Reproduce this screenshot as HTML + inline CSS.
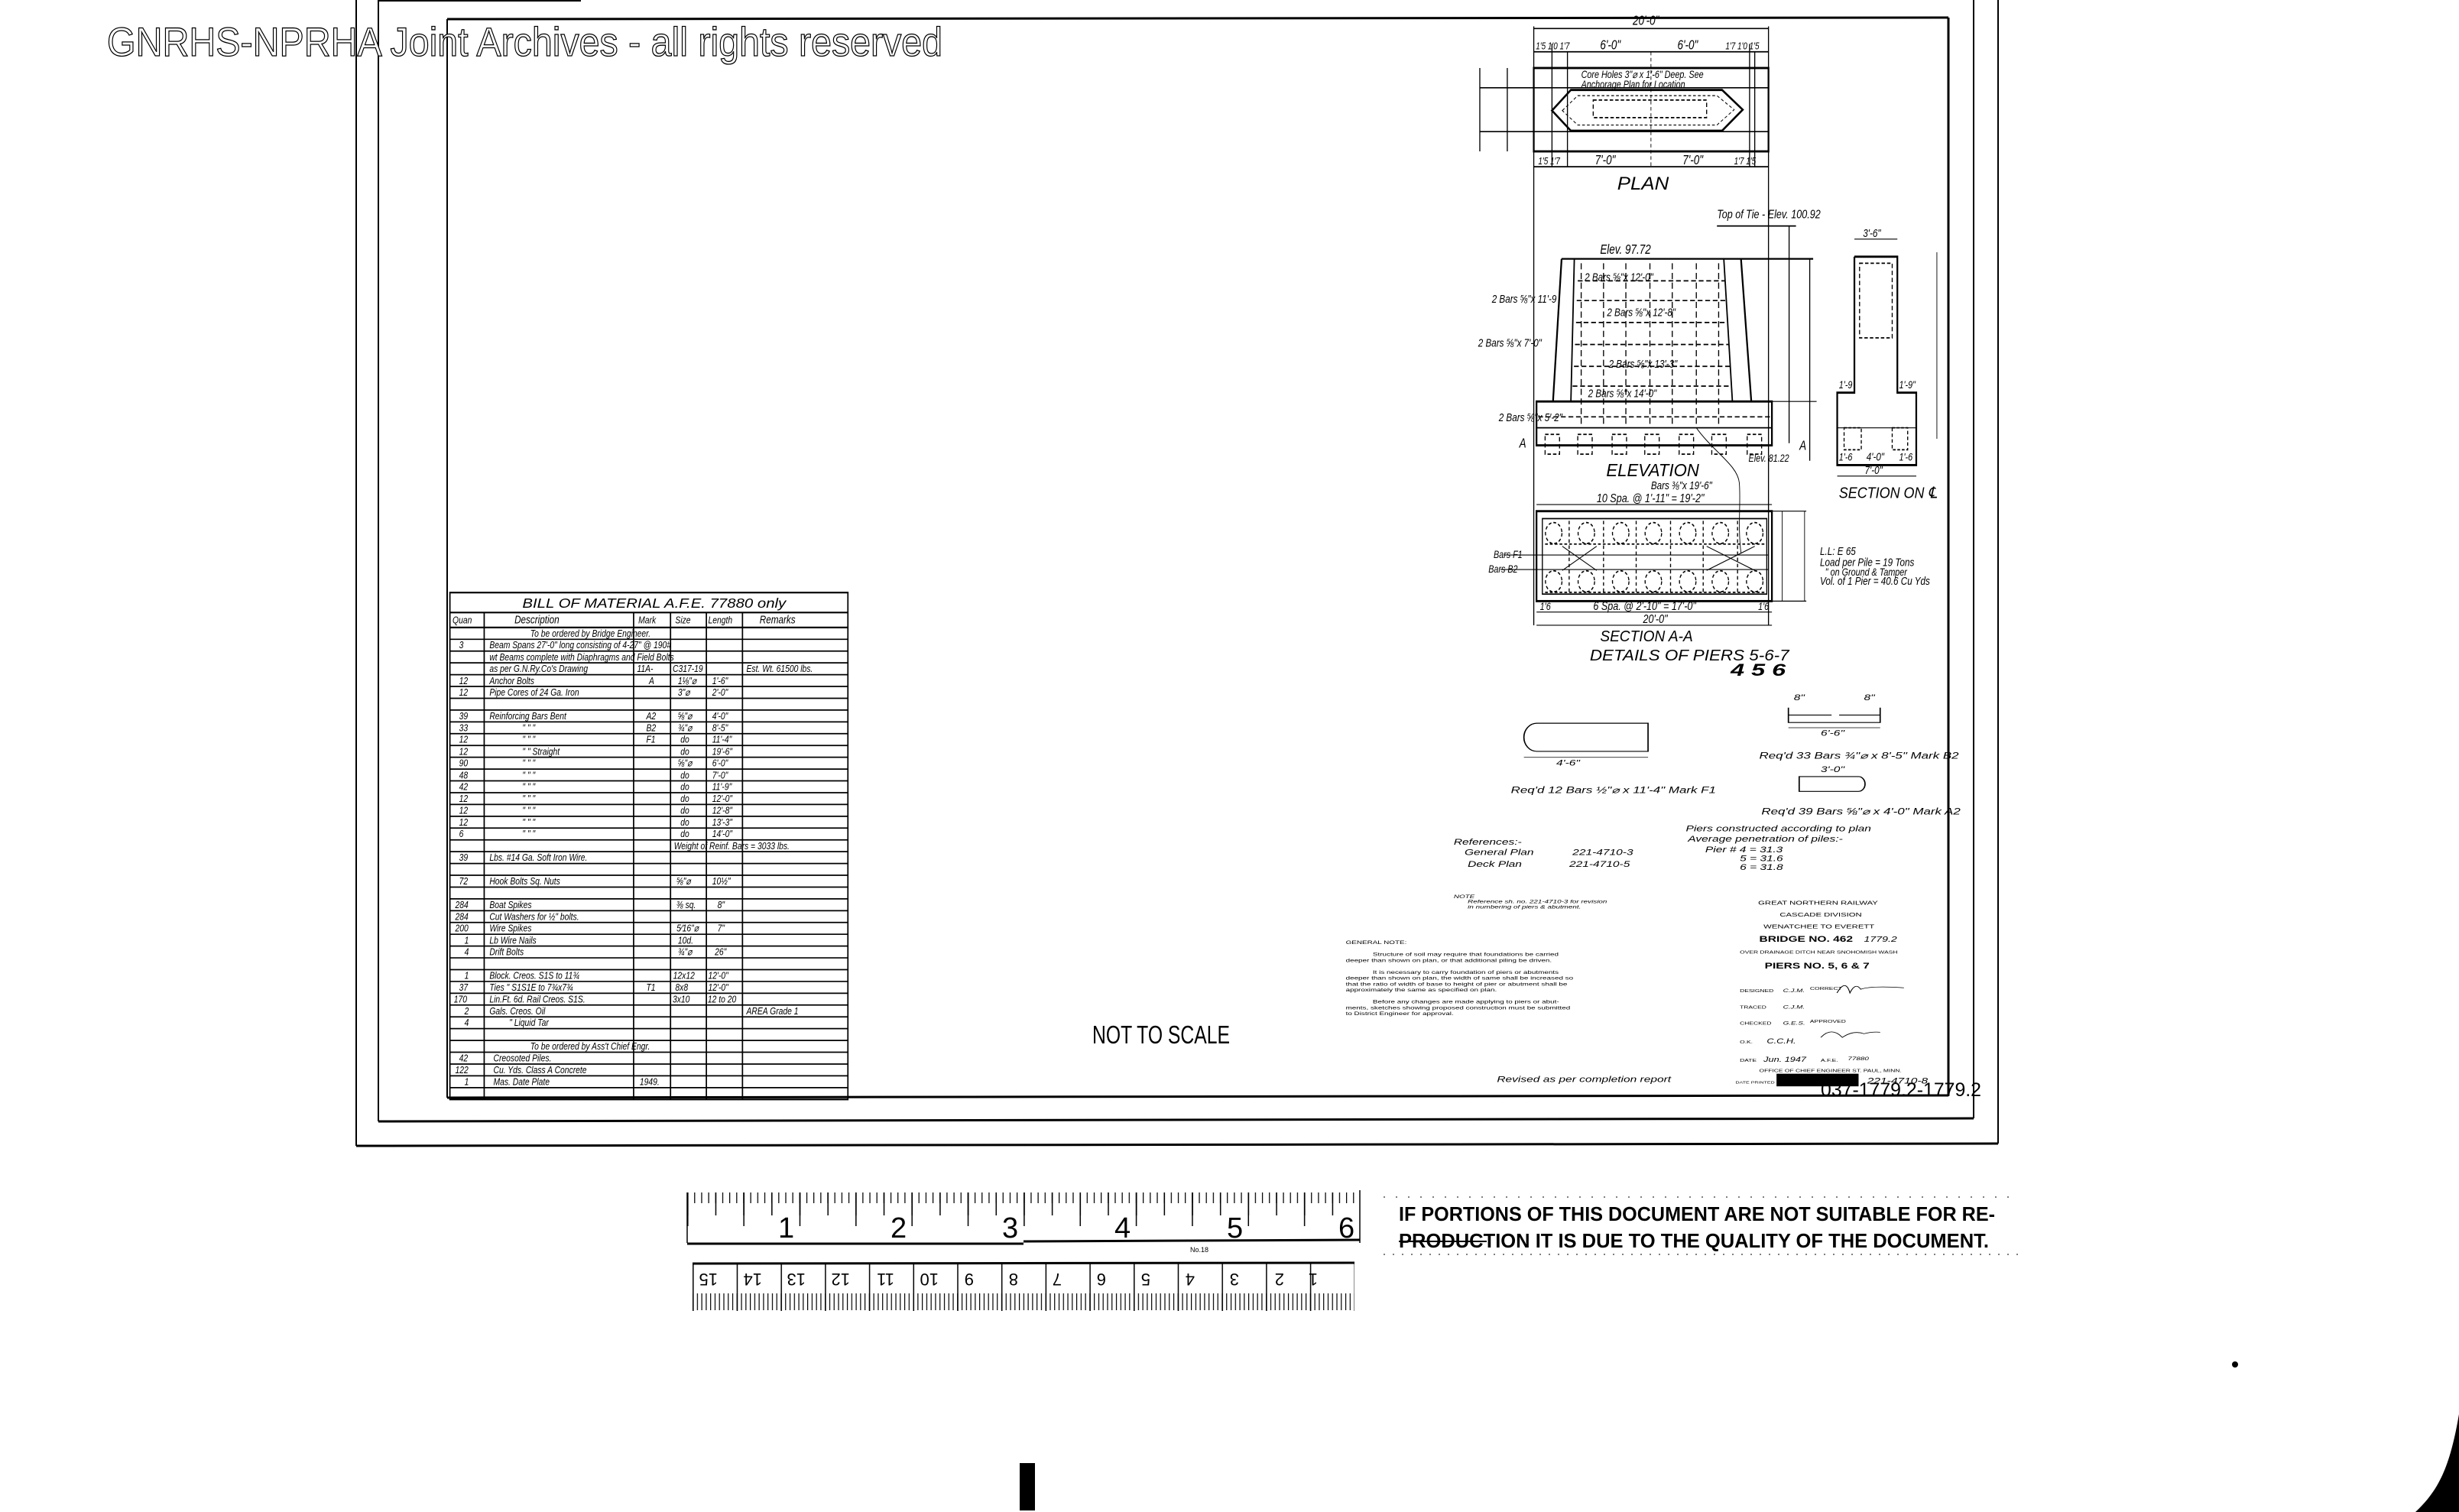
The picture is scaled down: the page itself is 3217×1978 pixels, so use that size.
<!DOCTYPE html>
<html><head><meta charset="utf-8">
<style>
html,body{margin:0;padding:0;background:#fff;}
svg{display:block;}
text{font-family:"Liberation Sans",sans-serif;fill:#000;}
</style></head>
<body>
<svg width="3217" height="1978" viewBox="0 0 3217 1978" xmlns="http://www.w3.org/2000/svg">
<defs>
<pattern id="in16" patternUnits="userSpaceOnUse" x="899" y="1560" width="9.17" height="80">
<line x1="0.6" y1="0" x2="0.6" y2="14" stroke="#000" stroke-width="1.3"/>
</pattern>
<pattern id="in4" patternUnits="userSpaceOnUse" x="899" y="1560" width="36.68" height="80">
<line x1="0.8" y1="0" x2="0.8" y2="30" stroke="#000" stroke-width="1.5"/>
</pattern>
<pattern id="in2" patternUnits="userSpaceOnUse" x="899" y="1560" width="73.35" height="80">
<line x1="0.8" y1="0" x2="0.8" y2="44" stroke="#000" stroke-width="1.5"/>
</pattern>
<pattern id="mm" patternUnits="userSpaceOnUse" x="906" y="1692" width="5.77" height="30">
<line x1="0.6" y1="0" x2="0.6" y2="22" stroke="#000" stroke-width="1.2"/>
</pattern>
<pattern id="cm" patternUnits="userSpaceOnUse" x="906" y="1653" width="57.7" height="70">
<line x1="0.8" y1="0" x2="0.8" y2="62" stroke="#000" stroke-width="1.5"/>
</pattern>
</defs>

<g stroke="#000" fill="none">
<line x1="466" y1="0" x2="466" y2="1499" stroke-width="2"/>
<line x1="466" y1="1499" x2="2614" y2="1496" stroke-width="3"/>
<line x1="2614" y1="0" x2="2614" y2="1496" stroke-width="2"/>
<line x1="495" y1="0" x2="495" y2="1467" stroke-width="2"/>
<line x1="495" y1="1" x2="760" y2="1" stroke-width="2"/>
<line x1="495" y1="1467" x2="2582" y2="1463" stroke-width="3"/>
<line x1="2582" y1="0" x2="2582" y2="1463" stroke-width="2"/>
<line x1="585" y1="25" x2="2549" y2="23" stroke-width="3"/>
<line x1="585" y1="25" x2="585" y2="1436" stroke-width="2"/>
<line x1="585" y1="1436" x2="2549" y2="1433" stroke-width="3"/>
<line x1="2549" y1="23" x2="2549" y2="1433" stroke-width="3"/>
</g>

<text x="140" y="73" font-size="53" textLength="1093" lengthAdjust="spacingAndGlyphs" style="fill:#fff;stroke:#000;stroke-width:1.3">GNRHS-NPRHA Joint Archives - all rights reserved</text>

<g transform="translate(580,760) scale(0.3448,0.4348)">
<g stroke="#000" stroke-width="5" fill="none">
<rect x="25" y="35" width="1510" height="1525"/>
<line x1="25" y1="95" x2="1535" y2="95"/>
<line x1="25" y1="140" x2="1535" y2="140"/>
<line x1="155" y1="95" x2="155" y2="1560"/>
<line x1="722" y1="95" x2="722" y2="1560"/>
<line x1="862" y1="95" x2="862" y2="1560"/>
<line x1="998" y1="95" x2="998" y2="1560"/>
<line x1="1135" y1="95" x2="1135" y2="1560"/>
</g>
<g stroke="#000" stroke-width="4">
<line x1="25" y1="175.5" x2="1535" y2="175.5"/><line x1="25" y1="211" x2="1535" y2="211"/><line x1="25" y1="246.5" x2="1535" y2="246.5"/><line x1="25" y1="282" x2="1535" y2="282"/><line x1="25" y1="317.5" x2="1535" y2="317.5"/><line x1="25" y1="353" x2="1535" y2="353"/><line x1="25" y1="388.5" x2="1535" y2="388.5"/><line x1="25" y1="424" x2="1535" y2="424"/><line x1="25" y1="459.5" x2="1535" y2="459.5"/><line x1="25" y1="495" x2="1535" y2="495"/><line x1="25" y1="530.5" x2="1535" y2="530.5"/><line x1="25" y1="566" x2="1535" y2="566"/><line x1="25" y1="601.5" x2="1535" y2="601.5"/><line x1="25" y1="637" x2="1535" y2="637"/><line x1="25" y1="672.5" x2="1535" y2="672.5"/><line x1="25" y1="708" x2="1535" y2="708"/><line x1="25" y1="743.5" x2="1535" y2="743.5"/><line x1="25" y1="779" x2="1535" y2="779"/><line x1="25" y1="814.5" x2="1535" y2="814.5"/><line x1="25" y1="850" x2="1535" y2="850"/><line x1="25" y1="885.5" x2="1535" y2="885.5"/><line x1="25" y1="921" x2="1535" y2="921"/><line x1="25" y1="956.5" x2="1535" y2="956.5"/><line x1="25" y1="992" x2="1535" y2="992"/><line x1="25" y1="1027.5" x2="1535" y2="1027.5"/><line x1="25" y1="1063" x2="1535" y2="1063"/><line x1="25" y1="1098.5" x2="1535" y2="1098.5"/><line x1="25" y1="1134" x2="1535" y2="1134"/><line x1="25" y1="1169.5" x2="1535" y2="1169.5"/><line x1="25" y1="1205" x2="1535" y2="1205"/><line x1="25" y1="1240.5" x2="1535" y2="1240.5"/><line x1="25" y1="1276" x2="1535" y2="1276"/><line x1="25" y1="1311.5" x2="1535" y2="1311.5"/><line x1="25" y1="1347" x2="1535" y2="1347"/><line x1="25" y1="1382.5" x2="1535" y2="1382.5"/><line x1="25" y1="1418" x2="1535" y2="1418"/><line x1="25" y1="1453.5" x2="1535" y2="1453.5"/><line x1="25" y1="1489" x2="1535" y2="1489"/><line x1="25" y1="1524.5" x2="1535" y2="1524.5"/>
</g>
<g font-size="30" font-style="italic">
<text x="300" y="80" font-size="40" textLength="1000" lengthAdjust="spacingAndGlyphs">BILL OF MATERIAL   A.F.E. 77880 only</text>
<text x="35" y="128">Quan</text><text x="270" y="128" font-size="34">Description</text><text x="740" y="128">Mark</text><text x="880" y="128">Size</text><text x="1005" y="128">Length</text><text x="1200" y="128" font-size="34">Remarks</text>
<text x="330" y="168">To be ordered by Bridge Engineer.</text>
<text x="60" y="203">3</text><text x="175" y="203">Beam Spans 27'-0" long consisting of 4-27" @ 190#</text>
<text x="175" y="239">wt Beams complete with Diaphragms and Field Bolts</text>
<text x="175" y="274">as per G.N.Ry.Co's Drawing</text><text x="735" y="274">11A-</text><text x="870" y="274">C317-19</text><text x="1150" y="274">Est. Wt. 61500 lbs.</text>
<text x="60" y="310">12</text><text x="175" y="310">Anchor Bolts</text><text x="780" y="310">A</text><text x="890" y="310">1⅛"⌀</text><text x="1020" y="310">1'-6"</text>
<text x="60" y="345">12</text><text x="175" y="345">Pipe Cores of 24 Ga. Iron</text><text x="890" y="345">3"⌀</text><text x="1020" y="345">2'-0"</text>
<text x="60" y="416">39</text><text x="175" y="416">Reinforcing Bars  Bent</text><text x="770" y="416">A2</text><text x="890" y="416">⅝"⌀</text><text x="1020" y="416">4'-0"</text>
<text x="60" y="452">33</text><text x="300" y="452">"        "        "</text><text x="770" y="452">B2</text><text x="890" y="452">¾"⌀</text><text x="1020" y="452">8'-5"</text>
<text x="60" y="487">12</text><text x="300" y="487">"        "        "</text><text x="770" y="487">F1</text><text x="900" y="487">do</text><text x="1020" y="487">11'-4"</text>
<text x="60" y="523">12</text><text x="300" y="523">"     "  Straight</text><text x="900" y="523">do</text><text x="1020" y="523">19'-6"</text>
<text x="60" y="558">90</text><text x="300" y="558">"        "        "</text><text x="890" y="558">⅝"⌀</text><text x="1020" y="558">6'-0"</text>
<text x="60" y="594">48</text><text x="300" y="594">"        "        "</text><text x="900" y="594">do</text><text x="1020" y="594">7'-0"</text>
<text x="60" y="629">42</text><text x="300" y="629">"        "        "</text><text x="900" y="629">do</text><text x="1020" y="629">11'-9"</text>
<text x="60" y="665">12</text><text x="300" y="665">"        "        "</text><text x="900" y="665">do</text><text x="1020" y="665">12'-0"</text>
<text x="60" y="700">12</text><text x="300" y="700">"        "        "</text><text x="900" y="700">do</text><text x="1020" y="700">12'-8"</text>
<text x="60" y="736">12</text><text x="300" y="736">"        "        "</text><text x="900" y="736">do</text><text x="1020" y="736">13'-3"</text>
<text x="60" y="771">6</text><text x="300" y="771">"        "        "</text><text x="900" y="771">do</text><text x="1020" y="771">14'-0"</text>
<text x="875" y="807">Weight of Reinf. Bars = 3033 lbs.</text>
<text x="60" y="842">39</text><text x="175" y="842">Lbs. #14 Ga. Soft Iron Wire.</text>
<text x="60" y="913">72</text><text x="175" y="913">Hook Bolts  Sq. Nuts</text><text x="885" y="913">⅝"⌀</text><text x="1020" y="913">10½"</text>
<text x="45" y="984">284</text><text x="175" y="984">Boat Spikes</text><text x="885" y="984">⅜ sq.</text><text x="1040" y="984">8"</text>
<text x="45" y="1020">284</text><text x="175" y="1020">Cut Washers for ½" bolts.</text>
<text x="45" y="1055">200</text><text x="175" y="1055">Wire Spikes</text><text x="885" y="1055">5⁄16"⌀</text><text x="1040" y="1055">7"</text>
<text x="80" y="1091">1</text><text x="175" y="1091">Lb Wire Nails</text><text x="890" y="1091">10d.</text>
<text x="80" y="1126">4</text><text x="175" y="1126">Drift Bolts</text><text x="890" y="1126">¾"⌀</text><text x="1030" y="1126">26"</text>
<text x="80" y="1197">1</text><text x="175" y="1197">Block. Creos. S1S to 11¾</text><text x="872" y="1197">12x12</text><text x="1005" y="1197">12'-0"</text>
<text x="60" y="1233">37</text><text x="175" y="1233">Ties    " S1S1E to 7¾x7¾</text><text x="770" y="1233">T1</text><text x="880" y="1233">8x8</text><text x="1005" y="1233">12'-0"</text>
<text x="40" y="1268">170</text><text x="175" y="1268">Lin.Ft. 6d. Rail Creos. S1S.</text><text x="870" y="1268">3x10</text><text x="1003" y="1268">12 to 20</text>
<text x="80" y="1304">2</text><text x="175" y="1304">Gals. Creos. Oil</text><text x="1150" y="1304">AREA Grade 1</text>
<text x="80" y="1339">4</text><text x="250" y="1339">"    Liquid Tar</text>
<text x="330" y="1410">To be ordered by Ass't Chief Engr.</text>
<text x="60" y="1446">42</text><text x="190" y="1446">Creosoted  Piles.</text>
<text x="45" y="1481">122</text><text x="190" y="1481">Cu. Yds. Class A Concrete</text>
<text x="80" y="1517">1</text><text x="190" y="1517">Mas. Date Plate</text><text x="745" y="1517">1949.</text>
</g>
</g>

<g transform="translate(1900,0) scale(0.4496,0.574)" fill="none" stroke="#000" stroke-width="4">
<line x1="237" y1="60" x2="237" y2="1425" stroke-width="3"/>
<line x1="920" y1="60" x2="920" y2="1425" stroke-width="3"/>
<line x1="237" y1="65" x2="920" y2="65" stroke-width="3"/>
<line x1="237" y1="118" x2="920" y2="118" stroke-width="3"/>
<rect x="237" y="155" width="683" height="190" stroke-width="5"/>
<line x1="237" y1="380" x2="920" y2="380" stroke-width="3"/>
<line x1="290" y1="100" x2="290" y2="380" stroke-width="3"/>
<line x1="335" y1="118" x2="335" y2="380" stroke-width="3"/>
<line x1="865" y1="100" x2="865" y2="380" stroke-width="3"/>
<line x1="880" y1="118" x2="880" y2="380" stroke-width="3"/>
<line x1="578" y1="118" x2="578" y2="380" stroke-width="2" stroke-dasharray="8 6"/>
<line x1="80" y1="200" x2="920" y2="200" stroke-width="3"/>
<line x1="80" y1="300" x2="920" y2="300" stroke-width="3"/>
<line x1="80" y1="155" x2="80" y2="345" stroke-width="3"/>
<line x1="160" y1="155" x2="160" y2="345" stroke-width="3"/>
<polygon points="290,252 345,205 785,205 845,250 785,298 345,298" stroke-width="5"/>
<polygon points="320,252 365,218 770,218 820,250 770,285 365,285" stroke-width="2" stroke-dasharray="8 6"/>
<rect x="410" y="228" width="330" height="40" stroke-width="3" stroke-dasharray="10 6"/>
<line x1="770" y1="515" x2="1000" y2="515" stroke-width="3"/>
<line x1="318" y1="590" x2="1050" y2="590" stroke-width="4"/>
<line x1="318" y1="590" x2="293" y2="915" stroke-width="5"/>
<line x1="355" y1="590" x2="345" y2="915" stroke-width="4"/>
<line x1="790" y1="590" x2="815" y2="915" stroke-width="4"/>
<line x1="840" y1="590" x2="870" y2="915" stroke-width="5"/>
<rect x="245" y="915" width="685" height="100" stroke-width="5"/>
<line x1="245" y1="975" x2="930" y2="975" stroke-width="3"/>
<g stroke-width="3" stroke-dasharray="14 8">
<line x1="375" y1="600" x2="375" y2="975"/><line x1="440" y1="600" x2="440" y2="975"/><line x1="505" y1="600" x2="505" y2="975"/><line x1="575" y1="600" x2="575" y2="975"/><line x1="640" y1="600" x2="640" y2="975"/><line x1="710" y1="600" x2="710" y2="975"/><line x1="775" y1="600" x2="775" y2="975"/>
<line x1="365" y1="640" x2="795" y2="640"/><line x1="362" y1="685" x2="800" y2="685"/><line x1="360" y1="735" x2="803" y2="735"/><line x1="357" y1="785" x2="806" y2="785"/><line x1="354" y1="835" x2="809" y2="835"/><line x1="350" y1="880" x2="812" y2="880"/><line x1="250" y1="950" x2="925" y2="950"/>
</g>
<g stroke-width="3" stroke-dasharray="10 6">
<rect x="270" y="990" width="42" height="45"/><rect x="365" y="990" width="42" height="45"/><rect x="465" y="990" width="42" height="45"/><rect x="560" y="990" width="42" height="45"/><rect x="660" y="990" width="42" height="45"/><rect x="755" y="990" width="42" height="45"/><rect x="858" y="990" width="42" height="45"/>
</g>
<line x1="980" y1="515" x2="980" y2="1010" stroke-width="3"/>
<line x1="1040" y1="590" x2="1040" y2="1050" stroke-width="3"/>
<line x1="930" y1="915" x2="1060" y2="915" stroke-width="2"/>
<path d="M710,975 C760,1030 830,1060 835,1100 C840,1140 830,1200 840,1260" stroke-width="2"/>
<polyline points="1170,585 1295,585 1295,895 1350,895 1350,1060 1120,1060 1120,895 1170,895 1170,585" stroke-width="5"/>
<rect x="1185" y="600" width="95" height="170" stroke-width="3" stroke-dasharray="10 6"/>
<line x1="1120" y1="975" x2="1350" y2="975" stroke-width="2"/>
<rect x="1140" y="975" width="50" height="50" stroke-width="3" stroke-dasharray="8 5"/>
<rect x="1280" y="975" width="45" height="50" stroke-width="3" stroke-dasharray="8 5"/>
<line x1="1170" y1="545" x2="1295" y2="545" stroke-width="2"/>
<line x1="1410" y1="575" x2="1410" y2="1000" stroke-width="2"/>
<line x1="1120" y1="1085" x2="1350" y2="1085" stroke-width="2"/>
<!-- SECTION A-A -->
<rect x="245" y="1165" width="685" height="205" stroke-width="5"/>
<rect x="262" y="1182" width="653" height="172" stroke-width="3"/>
<line x1="245" y1="1150" x2="930" y2="1150" stroke-width="2"/>
<line x1="245" y1="1395" x2="930" y2="1395" stroke-width="2"/>
<line x1="245" y1="1425" x2="930" y2="1425" stroke-width="2"/>
<line x1="960" y1="1165" x2="960" y2="1370" stroke-width="2"/>
<line x1="1025" y1="1165" x2="1025" y2="1370" stroke-width="2"/>
<line x1="930" y1="1165" x2="1030" y2="1165" stroke-width="2"/>
<line x1="930" y1="1370" x2="1030" y2="1370" stroke-width="2"/>
<line x1="150" y1="1265" x2="920" y2="1265" stroke-width="2"/>
<line x1="140" y1="1298" x2="920" y2="1298" stroke-width="2"/>
<g stroke-width="3" stroke-dasharray="8 6">
<circle cx="295" cy="1215" r="24"/><circle cx="390" cy="1215" r="24"/><circle cx="490" cy="1215" r="24"/><circle cx="585" cy="1215" r="24"/><circle cx="685" cy="1215" r="24"/><circle cx="780" cy="1215" r="24"/><circle cx="880" cy="1215" r="24"/>
<circle cx="295" cy="1325" r="24"/><circle cx="390" cy="1325" r="24"/><circle cx="490" cy="1325" r="24"/><circle cx="585" cy="1325" r="24"/><circle cx="685" cy="1325" r="24"/><circle cx="780" cy="1325" r="24"/><circle cx="880" cy="1325" r="24"/>
<line x1="270" y1="1240" x2="910" y2="1240"/><line x1="270" y1="1350" x2="910" y2="1350"/>
<line x1="340" y1="1187" x2="340" y2="1350"/><line x1="440" y1="1187" x2="440" y2="1350"/><line x1="535" y1="1187" x2="535" y2="1350"/><line x1="635" y1="1187" x2="635" y2="1350"/><line x1="730" y1="1187" x2="730" y2="1350"/><line x1="830" y1="1187" x2="830" y2="1350"/>
</g>
<line x1="320" y1="1245" x2="420" y2="1300" stroke-width="2"/><line x1="320" y1="1300" x2="420" y2="1245" stroke-width="2"/>
<line x1="740" y1="1245" x2="880" y2="1300" stroke-width="2"/><line x1="740" y1="1300" x2="880" y2="1245" stroke-width="2"/>
</g>
<g transform="translate(1900,0) scale(0.4496,0.574)" font-style="italic" font-size="30">
<text x="525" y="57">20'-0"</text>
<text x="243" y="112" font-size="22">1'5 1'0 1'7</text><text x="430" y="112">6'-0"</text><text x="655" y="112">6'-0"</text><text x="795" y="112" font-size="22">1'7 1'0 1'5</text>
<text x="375" y="178" font-size="24">Core Holes 3"⌀ x 1'-6" Deep. See</text>
<text x="375" y="200" font-size="24">Anchorage Plan for Location</text>
<text x="250" y="375" font-size="22">1'5  1'7</text><text x="415" y="375">7'-0"</text><text x="670" y="375">7'-0"</text><text x="820" y="375" font-size="22">1'7  1'5</text>
<text x="480" y="432" font-size="42" textLength="150" lengthAdjust="spacingAndGlyphs">PLAN</text>
<text x="770" y="497" font-size="28">Top of Tie - Elev. 100.92</text>
<text x="430" y="578" font-size="30">Elev. 97.72</text>
<text x="385" y="640" font-size="26">2 Bars ⅝"x 12'-0"</text>
<text x="450" y="720" font-size="26">2 Bars ⅝"x 12'-8"</text>
<text x="455" y="838" font-size="26">2 Bars ⅝"x 13'-3"</text>
<text x="395" y="905" font-size="26">2 Bars ⅝"x 14'-0"</text>
<text x="115" y="690" font-size="26">2 Bars ⅝"x 11'-9</text>
<text x="75" y="790" font-size="26">2 Bars ⅝"x 7'-0"</text>
<text x="135" y="960" font-size="26">2 Bars ⅝"x 5'-2"</text>
<text x="195" y="1020" font-size="30">A</text>
<text x="1010" y="1025" font-size="30">A</text>
<text x="862" y="1052" font-size="24">Elev. 81.22</text>
<text x="448" y="1085" font-size="40" textLength="270" lengthAdjust="spacingAndGlyphs">ELEVATION</text>
<text x="578" y="1115" font-size="26">Bars ⅜"x 19'-6"</text>
<text x="420" y="1145" font-size="28">10 Spa. @ 1'-11" = 19'-2"</text>
<text x="1195" y="540" font-size="26">3'-6"</text>
<text x="1125" y="885" font-size="24">1'-9</text><text x="1300" y="885" font-size="24">1'-9"</text>
<text x="1125" y="1050" font-size="24">1'-6</text><text x="1205" y="1050" font-size="26">4'-0"</text><text x="1300" y="1050" font-size="24">1'-6</text>
<text x="1200" y="1080" font-size="26">7'-0"</text>
<text x="1125" y="1135" font-size="36" textLength="285" lengthAdjust="spacingAndGlyphs">SECTION ON ℄</text>
<text x="120" y="1272" font-size="24">Bars F1</text><text x="105" y="1305" font-size="24">Bars B2</text>
<text x="1070" y="1265" font-size="26">L.L: E 65</text>
<text x="1070" y="1290" font-size="26">Load per Pile = 19 Tons</text>
<text x="1085" y="1312" font-size="24">"  on Ground &amp; Tamper</text>
<text x="1070" y="1333" font-size="26">Vol. of 1 Pier = 40.6 Cu Yds</text>
<text x="255" y="1390" font-size="24">1'6</text><text x="410" y="1390" font-size="28">6 Spa. @ 2'-10" = 17'-0"</text><text x="890" y="1390" font-size="24">1'6</text>
<text x="555" y="1420" font-size="28">20'-0"</text>
<text x="430" y="1462" font-size="36" textLength="270" lengthAdjust="spacingAndGlyphs">SECTION A-A</text>
<text x="400" y="1505" font-size="36" textLength="580" lengthAdjust="spacingAndGlyphs">DETAILS OF PIERS 5-6-7</text>
<text x="810" y="1540" font-size="38" font-weight="bold" textLength="160" lengthAdjust="spacingAndGlyphs">4  5  6</text>
</g>

<g transform="translate(440,0) scale(1.4124,0.9694)">
<g fill="none" stroke="#000" stroke-width="1.2">
<path d="M1112,976 L1215,976 L1215,1014 L1112,1014 A12,19 0 0 1 1112,976 Z"/>
<line x1="1100" y1="1022" x2="1215" y2="1022" stroke-width="0.8"/>
<path d="M1345,955 L1345,975 L1430,975 L1430,955 M1345,965 L1385,965 M1392,965 L1430,965"/>
<line x1="1345" y1="982" x2="1430" y2="982" stroke-width="0.8"/>
<path d="M1355,1048 L1410,1048 A6,10 0 0 1 1410,1068 L1355,1068 Z"/>
<rect x="1334" y="1449" width="76" height="17" fill="#000" stroke="none"/>
</g>
<g font-style="italic" font-size="11">
<text x="1130" y="1033">4'-6"</text>
<text x="1350" y="945">8"</text><text x="1415" y="945">8"</text><text x="1375" y="993">6'-6"</text>
<text x="1088" y="1070" font-size="12">Req'd 12 Bars ½"⌀ x 11'-4" Mark F1</text>
<text x="1318" y="1024" font-size="12">Req'd 33 Bars ¾"⌀ x 8'-5" Mark B2</text>
<text x="1375" y="1042">3'-0"</text>
<text x="1320" y="1099" font-size="12">Req'd 39 Bars ⅝"⌀ x 4'-0" Mark A2</text>
<text x="1250" y="1122">Piers constructed according to plan</text>
<text x="1252" y="1136">Average penetration of piles:-</text>
<text x="1268" y="1150">Pier # 4 = 31.3</text>
<text x="1300" y="1162">5 = 31.6</text>
<text x="1300" y="1174">6 = 31.8</text>
<text x="1035" y="1140">References:-</text>
<text x="1045" y="1154">General Plan</text><text x="1145" y="1154">221-4710-3</text>
<text x="1048" y="1170">Deck Plan</text><text x="1142" y="1170">221-4710-5</text>
<text x="1035" y="1212" font-size="7">NOTE</text>
<text x="1048" y="1219" font-size="7">Reference sh. no. 221-4710-3 for revision</text>
<text x="1048" y="1226" font-size="7">in numbering of piers &amp; abutment.</text>
<text x="1075" y="1460" font-size="11">Revised as per completion report</text>
</g>
<g font-size="7">
<text x="935" y="1274">GENERAL NOTE:</text>
<text x="960" y="1290">Structure of soil may require that foundations be carried</text>
<text x="935" y="1298">deeper than shown on plan, or that additional piling be driven.</text>
<text x="960" y="1314">It is necessary to carry foundation of piers or abutments</text>
<text x="935" y="1322">deeper than shown on plan, the width of same shall be increased so</text>
<text x="935" y="1330">that the ratio of width of base to height of pier or abutment shall be</text>
<text x="935" y="1338">approximately the same as specified on plan.</text>
<text x="960" y="1354">Before any changes are made applying to piers or abut-</text>
<text x="935" y="1362">ments, sketches showing proposed construction must be submitted</text>
<text x="935" y="1370">to District Engineer for approval.</text>
<text x="1317" y="1221" font-size="8">GREAT NORTHERN RAILWAY</text>
<text x="1337" y="1237" font-size="8">CASCADE DIVISION</text>
<text x="1322" y="1253" font-size="8">WENATCHEE TO EVERETT</text>
<text x="1318" y="1271" font-size="11" font-weight="bold">BRIDGE  NO. 462</text><text x="1415" y="1271" font-size="10" font-style="italic">1779.2</text>
<text x="1300" y="1287" font-size="6">OVER DRAINAGE DITCH  NEAR SNOHOMISH  WASH</text>
<text x="1323" y="1307" font-size="11" font-weight="bold">PIERS  NO. 5, 6 &amp; 7</text>
<text x="1300" y="1339" font-size="6">DESIGNED</text><text x="1340" y="1339" font-style="italic">C.J.M.</text><text x="1365" y="1336" font-size="6">CORRECT</text>
<text x="1300" y="1361" font-size="6">TRACED</text><text x="1340" y="1361" font-style="italic">C.J.M.</text>
<text x="1300" y="1383" font-size="6">CHECKED</text><text x="1340" y="1383" font-style="italic">G.E.S.</text><text x="1365" y="1380" font-size="6">APPROVED</text>
<text x="1300" y="1408" font-size="6">O.K.</text><text x="1325" y="1408" font-size="9" font-style="italic">C.C.H.</text>
<text x="1300" y="1433" font-size="6">DATE</text><text x="1322" y="1433" font-size="9" font-style="italic">Jun. 1947</text><text x="1375" y="1433" font-size="6">A.F.E.</text><text x="1400" y="1431" font-style="italic">77880</text>
<text x="1318" y="1447" font-size="6">OFFICE OF CHIEF ENGINEER  ST. PAUL, MINN.</text>
<text x="1296" y="1462" font-size="5">DATE PRINTED</text>
<text x="1418" y="1462" font-size="11" font-style="italic">221-4710-8</text>
</g>
<g fill="none" stroke="#000" stroke-width="0.8">
<path d="M1390,1340 q8,-20 12,0 q5,-15 10,-5 q10,-5 40,-2"/>
<path d="M1375,1400 q10,-15 20,0 q10,-10 20,-5 q8,-3 15,-2"/>
</g>
</g>
<text x="2382" y="1434" font-size="25" textLength="210" lengthAdjust="spacingAndGlyphs">037-1779.2-1779.2</text>
<text x="1429" y="1365" font-size="33" textLength="180" lengthAdjust="spacingAndGlyphs">NOT TO SCALE</text>

<g stroke="#000" fill="none">
<rect x="899" y="1560" width="880" height="48" fill="url(#in16)" stroke="none"/>
<rect x="899" y="1560" width="880" height="48" fill="url(#in4)" stroke="none"/>
<rect x="899" y="1560" width="880" height="48" fill="url(#in2)" stroke="none"/>
<line x1="899" y1="1560" x2="899" y2="1626" stroke-width="1.5"/>
<line x1="1779" y1="1557" x2="1779" y2="1626" stroke-width="1.5"/>
<line x1="899" y1="1627" x2="1339" y2="1627" stroke-width="3"/>
<line x1="1339" y1="1624" x2="1779" y2="1622" stroke-width="3"/>
<line x1="906" y1="1653" x2="1772" y2="1652" stroke-width="3"/>
<rect x="906" y="1653" width="866" height="62" fill="url(#cm)" stroke="none"/>
<rect x="906" y="1692" width="866" height="22" fill="url(#mm)" stroke="none"/>
</g>
<g font-family="Liberation Serif" font-size="38">
<text x="1018" y="1619">1</text><text x="1165" y="1619">2</text><text x="1311" y="1619">3</text><text x="1458" y="1619">4</text><text x="1605" y="1619">5</text><text x="1751" y="1619">6</text>
</g>
<g font-family="Liberation Serif" font-size="22">
<text transform="translate(1724,1666) rotate(180)">1</text><text transform="translate(1680,1666) rotate(180)">2</text><text transform="translate(1621,1666) rotate(180)">3</text><text transform="translate(1563,1666) rotate(180)">4</text><text transform="translate(1505,1666) rotate(180)">5</text><text transform="translate(1447,1666) rotate(180)">6</text><text transform="translate(1389,1666) rotate(180)">7</text><text transform="translate(1332,1666) rotate(180)">8</text><text transform="translate(1274,1666) rotate(180)">9</text><text transform="translate(1228,1666) rotate(180)">10</text><text transform="translate(1170,1666) rotate(180)">11</text><text transform="translate(1112,1666) rotate(180)">12</text><text transform="translate(1054,1666) rotate(180)">13</text><text transform="translate(997,1666) rotate(180)">14</text><text transform="translate(939,1666) rotate(180)">15</text>
</g>
<text x="1557" y="1638" font-size="9">No.18</text>
<line x1="1810" y1="1566" x2="2640" y2="1566" stroke="#000" stroke-width="1" stroke-dasharray="2 14"/>
<line x1="1810" y1="1641" x2="2640" y2="1641" stroke="#000" stroke-width="1" stroke-dasharray="2 10"/>
<g font-family="Liberation Mono" font-weight="bold" font-size="26">
<text x="1830" y="1597" textLength="780" lengthAdjust="spacingAndGlyphs">IF PORTIONS OF THIS DOCUMENT ARE NOT SUITABLE FOR RE-</text>
<text x="1830" y="1632" textLength="772" lengthAdjust="spacingAndGlyphs">PRODUCTION IT IS DUE TO THE QUALITY OF THE DOCUMENT.</text>
</g>
<line x1="1830" y1="1624" x2="1945" y2="1624" stroke="#000" stroke-width="2"/>

<rect x="1334" y="1914" width="20" height="62" fill="#000"/>
<circle cx="2924" cy="1785" r="4" fill="#000"/>
<path d="M3217,1850 C3205,1920 3190,1950 3160,1978 L3217,1978 Z" fill="#000"/>
</svg>
</body></html>
